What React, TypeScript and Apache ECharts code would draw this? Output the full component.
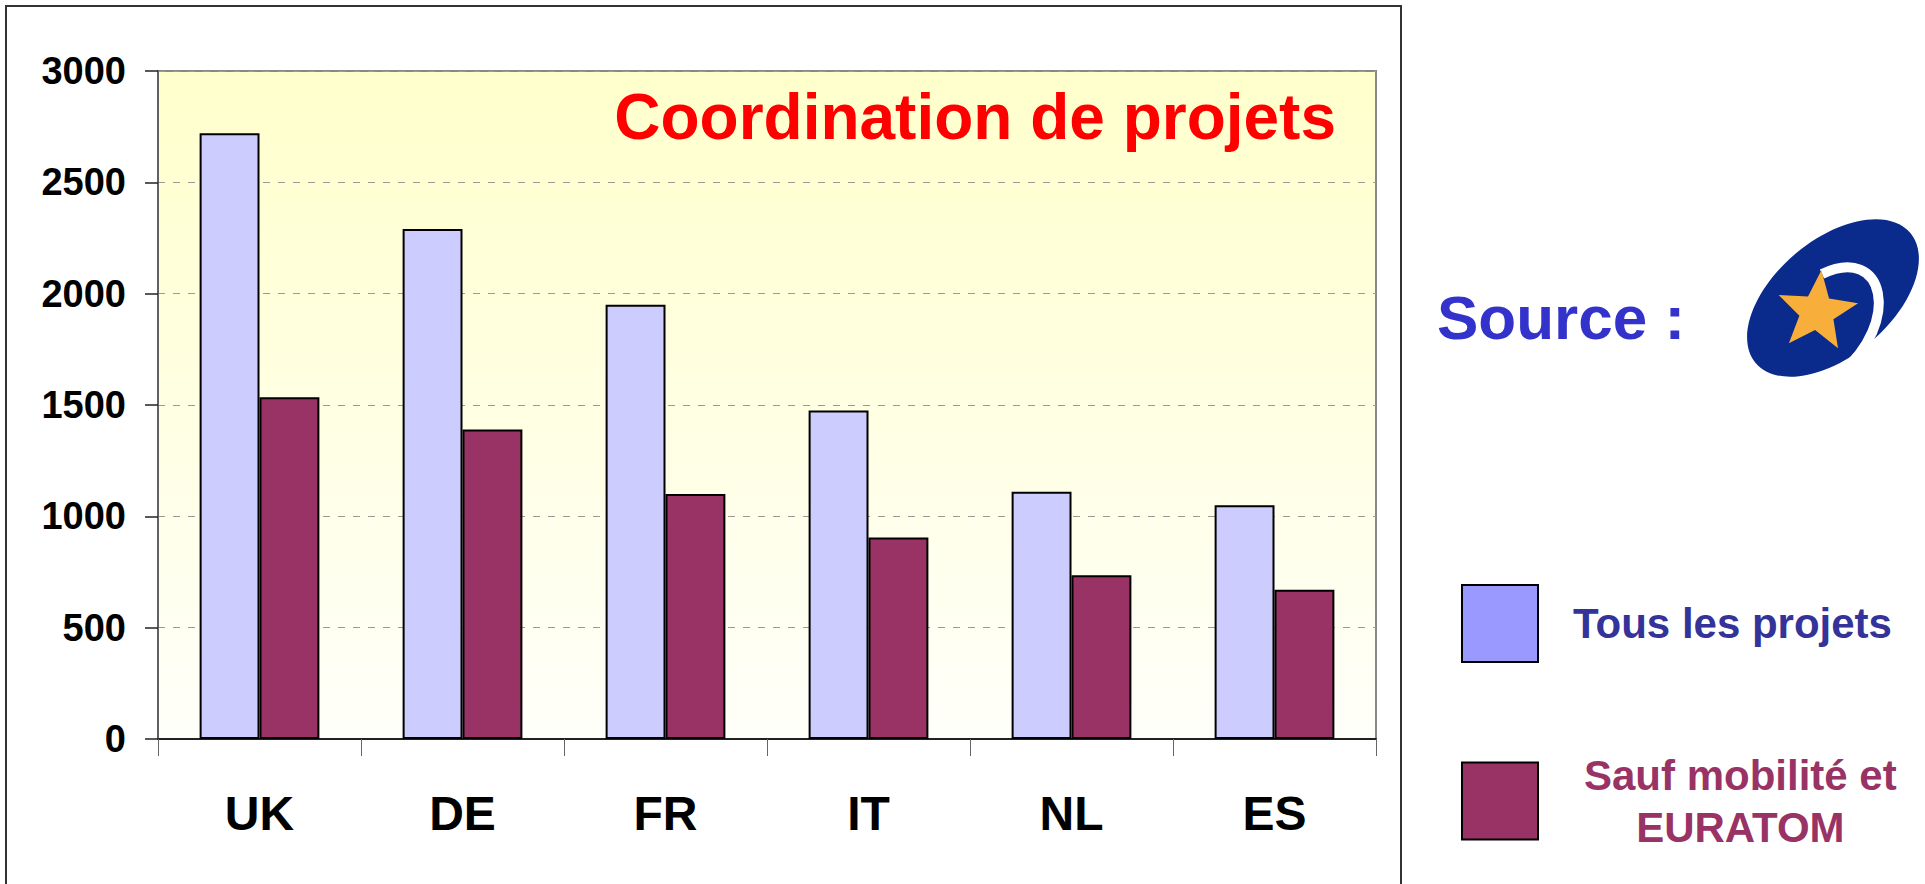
import React, { useEffect, useRef } from "react";
import * as echarts from "echarts";

const categories = ["UK", "DE", "FR", "IT", "NL", "ES"];
const tousLesProjets = [2720, 2290, 1950, 1475, 1110, 1050];
const saufMobilite = [1535, 1390, 1100, 905, 735, 670];
const yTicks = { min: 0, max: 3000, interval: 500 };
const seriesNames = ["Tous les projets", "Sauf mobilité et EURATOM"];
const titleText = "Coordination de projets";
const sourceText = "Source :";

const FONT = "'Liberation Sans', Arial, sans-serif";

function starPoints(cx: number, cy: number, ro: number, ri: number, rotDeg: number) {
  const pts: number[][] = [];
  for (let i = 0; i < 10; i++) {
    const r = i % 2 === 0 ? ro : ri;
    const a = ((-90 + rotDeg + i * 36) * Math.PI) / 180;
    pts.push([cx + r * Math.cos(a), cy + r * Math.sin(a)]);
  }
  return pts;
}

export default function App() {
  const ref = useRef<HTMLDivElement>(null);
  useEffect(() => {
    if (!ref.current) return;
    const chart = echarts.init(ref.current, undefined, { renderer: "svg" });
    chart.setOption({
      animation: false,
      backgroundColor: "#ffffff",
      textStyle: { fontFamily: FONT },
      grid: {
        left: 158,
        top: 71,
        width: 1218,
        height: 668,
        containLabel: false,
        show: true,
        borderColor: "#888888",
        borderWidth: 2,
        backgroundColor: new echarts.graphic.LinearGradient(0, 0, 0, 1, [
          { offset: 0, color: "#FFFFCC" },
          { offset: 1, color: "#FFFFFA" },
        ]),
      },
      xAxis: {
        type: "category",
        data: categories,
        axisLine: { show: true, lineStyle: { color: "#222222", width: 2 } },
        axisTick: { show: true, length: 17, lineStyle: { color: "#666666", width: 1 } },
        axisLabel: {
          color: "#000000",
          fontSize: 48,
          fontWeight: "bold",
          fontFamily: FONT,
          margin: 50,
        },
      },
      yAxis: {
        type: "value",
        min: yTicks.min,
        max: yTicks.max,
        interval: yTicks.interval,
        axisLine: { show: true, lineStyle: { color: "#555555", width: 1.5 } },
        axisTick: { show: true, length: 13, lineStyle: { color: "#222222", width: 1.5 } },
        axisLabel: {
          color: "#000000",
          fontSize: 38,
          fontWeight: "bold",
          fontFamily: FONT,
          margin: 32,
          formatter: (v: number) => String(v),
        },
        splitLine: {
          show: true,
          lineStyle: { color: "#999999", type: [7, 8], width: 1 },
        },
      },
      legend: {
        orient: "vertical",
        left: 1461,
        top: 584,
        padding: 0,
        itemWidth: 76,
        itemHeight: 77,
        itemGap: 91,
        selectedMode: false,
        data: [
          {
            name: seriesNames[0],
            icon: "rect",
            itemStyle: { color: "#9999FF", borderColor: "#000000", borderWidth: 2 },
            textStyle: {
              color: "#333399",
              fontSize: 42,
              fontWeight: "bold",
              fontFamily: FONT,
              padding: [0, 0, 0, 30],
            },
          },
          {
            name: seriesNames[1],
            icon: "rect",
            itemStyle: { color: "#993366", borderColor: "#000000", borderWidth: 2 },
            textStyle: {
              color: "#993366",
              fontSize: 42,
              fontWeight: "bold",
              fontFamily: FONT,
              padding: [0, 0, 0, 41],
              rich: {
                a: {
                  color: "#993366",
                  fontSize: 42,
                  fontWeight: "bold",
                  fontFamily: FONT,
                  lineHeight: 52,
                  align: "center",
                },
                b: {
                  color: "#993366",
                  fontSize: 42,
                  fontWeight: "bold",
                  fontFamily: FONT,
                  lineHeight: 52,
                  align: "center",
                },
              },
            },
          },
        ],
        formatter: (name: string) =>
          name === seriesNames[1] ? "{a|Sauf mobilité et}\n{b|EURATOM}" : name,
      },
      series: [
        {
          name: seriesNames[0],
          type: "bar",
          data: tousLesProjets,
          barGap: "0%",
          barCategoryGap: "41%",
          itemStyle: { color: "#CCCCFF", borderColor: "#000000", borderWidth: 2 },
        },
        {
          name: seriesNames[1],
          type: "bar",
          data: saufMobilite,
          barGap: "0%",
          barCategoryGap: "41%",
          itemStyle: { color: "#993366", borderColor: "#000000", borderWidth: 2 },
        },
      ],
      graphic: [
        {
          type: "rect",
          z: 100,
          silent: true,
          shape: { x: 6, y: 6, width: 1395, height: 900 },
          style: { fill: "none", stroke: "#333333", lineWidth: 2 },
        },
        {
          type: "text",
          z: 100,
          x: 1336,
          y: 117,
          style: {
            text: titleText,
            fill: "#FF0000",
            fontSize: 64,
            fontWeight: "bold",
            fontFamily: FONT,
            align: "right",
            verticalAlign: "middle",
          },
        },
        {
          type: "text",
          z: 100,
          x: 1437,
          y: 317,
          style: {
            text: sourceText,
            fill: "#3333CC",
            fontSize: 62,
            fontWeight: "bold",
            fontFamily: FONT,
            align: "left",
            verticalAlign: "middle",
          },
        },
        {
          type: "group",
          z: 100,
          children: [
            {
              type: "ellipse",
              x: 1833,
              y: 298,
              rotation: (40 * Math.PI) / 180,
              shape: { cx: 0, cy: 0, rx: 101, ry: 58 },
              style: { fill: "#0A2A8C" },
            },
            {
              type: "bezierCurve",
              shape: {
                x1: 1822,
                y1: 274,
                cpx1: 1885,
                cpy1: 244,
                cpx2: 1902,
                cpy2: 322,
                x2: 1840,
                y2: 374,
              },
              style: { stroke: "#FFFFFF", lineWidth: 10, fill: "none" },
            },
            {
              type: "polygon",
              shape: { points: starPoints(1817, 312, 42, 18, 6) },
              style: { fill: "#F7AE3A" },
            },
          ],
        },
      ],
    });
    return () => chart.dispose();
  }, []);
  return (
    <div
      ref={ref}
      style={{ position: "fixed", left: 0, top: 0, width: 1925, height: 884 }}
    />
  );
}
